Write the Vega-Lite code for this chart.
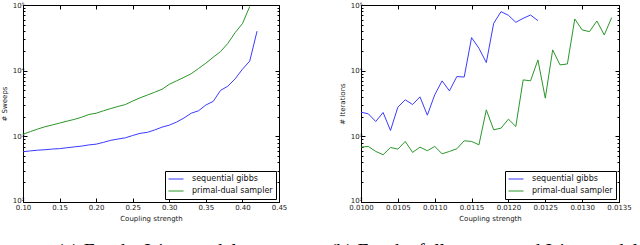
{
  "$schema": "https://vega.github.io/schema/vega-lite/v6.json",
  "padding": {"left": 0, "top": 1, "right": 0, "bottom": 0},
  "autosize": {"type": "pad"},
  "bounds": "flush",
  "spacing": 82,
  "background": "white",
  "config": {
    "view": {"stroke": null},
    "font": "DejaVu Sans",
    "axis": {
      "grid": false,
      "domainColor": "black",
      "domainWidth": 1,
      "tickColor": "black",
      "tickWidth": 1,
      "labelFont": "DejaVu Sans",
      "labelFontSize": 7,
      "labelColor": "#222222",
      "titleFont": "DejaVu Sans",
      "titleFontSize": 7,
      "titleFontWeight": "normal",
      "titleColor": "#222222",
      "labelOverlap": false,
      "labelFlush": false
    },
    "legend": {
      "orient": "bottom-right",
      "offset": 3,
      "strokeColor": "black",
      "fillColor": "white",
      "padding": 3,
      "cornerRadius": 0,
      "labelFont": "DejaVu Sans",
      "labelFontSize": 8,
      "labelColor": "#111111",
      "labelOffset": 8,
      "symbolType": "stroke",
      "symbolSize": 225,
      "symbolStrokeWidth": 1,
      "clipHeight": 10,
      "rowPadding": 2,
      "title": null
    },
    "title": {"font": "Liberation Serif", "fontSize": 19.5, "fontWeight": "normal", "color": "black"}
  },
  "datasets": {
    "left": [
      {"coupling": 0.10, "value": 583, "method": "sequential gibbs"},
      {"coupling": 0.11, "value": 600, "method": "sequential gibbs"},
      {"coupling": 0.12, "value": 615, "method": "sequential gibbs"},
      {"coupling": 0.13, "value": 625, "method": "sequential gibbs"},
      {"coupling": 0.14, "value": 640, "method": "sequential gibbs"},
      {"coupling": 0.15, "value": 650, "method": "sequential gibbs"},
      {"coupling": 0.16, "value": 670, "method": "sequential gibbs"},
      {"coupling": 0.17, "value": 690, "method": "sequential gibbs"},
      {"coupling": 0.18, "value": 710, "method": "sequential gibbs"},
      {"coupling": 0.19, "value": 740, "method": "sequential gibbs"},
      {"coupling": 0.20, "value": 760, "method": "sequential gibbs"},
      {"coupling": 0.21, "value": 810, "method": "sequential gibbs"},
      {"coupling": 0.22, "value": 870, "method": "sequential gibbs"},
      {"coupling": 0.23, "value": 910, "method": "sequential gibbs"},
      {"coupling": 0.24, "value": 950, "method": "sequential gibbs"},
      {"coupling": 0.25, "value": 1030, "method": "sequential gibbs"},
      {"coupling": 0.26, "value": 1110, "method": "sequential gibbs"},
      {"coupling": 0.27, "value": 1150, "method": "sequential gibbs"},
      {"coupling": 0.28, "value": 1250, "method": "sequential gibbs"},
      {"coupling": 0.29, "value": 1380, "method": "sequential gibbs"},
      {"coupling": 0.30, "value": 1480, "method": "sequential gibbs"},
      {"coupling": 0.31, "value": 1650, "method": "sequential gibbs"},
      {"coupling": 0.32, "value": 1900, "method": "sequential gibbs"},
      {"coupling": 0.33, "value": 2250, "method": "sequential gibbs"},
      {"coupling": 0.34, "value": 2450, "method": "sequential gibbs"},
      {"coupling": 0.35, "value": 3000, "method": "sequential gibbs"},
      {"coupling": 0.36, "value": 3400, "method": "sequential gibbs"},
      {"coupling": 0.37, "value": 5000, "method": "sequential gibbs"},
      {"coupling": 0.38, "value": 5800, "method": "sequential gibbs"},
      {"coupling": 0.39, "value": 7500, "method": "sequential gibbs"},
      {"coupling": 0.40, "value": 10500, "method": "sequential gibbs"},
      {"coupling": 0.41, "value": 14000, "method": "sequential gibbs"},
      {"coupling": 0.42, "value": 40000, "method": "sequential gibbs"},
      {"coupling": 0.10, "value": 1075, "method": "primal-dual sampler"},
      {"coupling": 0.11, "value": 1180, "method": "primal-dual sampler"},
      {"coupling": 0.12, "value": 1290, "method": "primal-dual sampler"},
      {"coupling": 0.13, "value": 1400, "method": "primal-dual sampler"},
      {"coupling": 0.14, "value": 1490, "method": "primal-dual sampler"},
      {"coupling": 0.15, "value": 1590, "method": "primal-dual sampler"},
      {"coupling": 0.16, "value": 1700, "method": "primal-dual sampler"},
      {"coupling": 0.17, "value": 1810, "method": "primal-dual sampler"},
      {"coupling": 0.18, "value": 1950, "method": "primal-dual sampler"},
      {"coupling": 0.19, "value": 2150, "method": "primal-dual sampler"},
      {"coupling": 0.20, "value": 2250, "method": "primal-dual sampler"},
      {"coupling": 0.21, "value": 2450, "method": "primal-dual sampler"},
      {"coupling": 0.22, "value": 2650, "method": "primal-dual sampler"},
      {"coupling": 0.23, "value": 2850, "method": "primal-dual sampler"},
      {"coupling": 0.24, "value": 3050, "method": "primal-dual sampler"},
      {"coupling": 0.25, "value": 3450, "method": "primal-dual sampler"},
      {"coupling": 0.26, "value": 3850, "method": "primal-dual sampler"},
      {"coupling": 0.27, "value": 4250, "method": "primal-dual sampler"},
      {"coupling": 0.28, "value": 4700, "method": "primal-dual sampler"},
      {"coupling": 0.29, "value": 5200, "method": "primal-dual sampler"},
      {"coupling": 0.30, "value": 6200, "method": "primal-dual sampler"},
      {"coupling": 0.31, "value": 7000, "method": "primal-dual sampler"},
      {"coupling": 0.32, "value": 7900, "method": "primal-dual sampler"},
      {"coupling": 0.33, "value": 9000, "method": "primal-dual sampler"},
      {"coupling": 0.34, "value": 10800, "method": "primal-dual sampler"},
      {"coupling": 0.35, "value": 13000, "method": "primal-dual sampler"},
      {"coupling": 0.36, "value": 16000, "method": "primal-dual sampler"},
      {"coupling": 0.37, "value": 19500, "method": "primal-dual sampler"},
      {"coupling": 0.38, "value": 26000, "method": "primal-dual sampler"},
      {"coupling": 0.39, "value": 38000, "method": "primal-dual sampler"},
      {"coupling": 0.40, "value": 52000, "method": "primal-dual sampler"},
      {"coupling": 0.41, "value": 95000, "method": "primal-dual sampler"}
    ],
    "right": [
      {"coupling": 0.0100, "value": 2335, "method": "sequential gibbs"},
      {"coupling": 0.0101, "value": 2200, "method": "sequential gibbs"},
      {"coupling": 0.0102, "value": 1683, "method": "sequential gibbs"},
      {"coupling": 0.0103, "value": 2307, "method": "sequential gibbs"},
      {"coupling": 0.0104, "value": 1228, "method": "sequential gibbs"},
      {"coupling": 0.0105, "value": 2780, "method": "sequential gibbs"},
      {"coupling": 0.0106, "value": 3595, "method": "sequential gibbs"},
      {"coupling": 0.0107, "value": 3052, "method": "sequential gibbs"},
      {"coupling": 0.0108, "value": 3990, "method": "sequential gibbs"},
      {"coupling": 0.0109, "value": 2100, "method": "sequential gibbs"},
      {"coupling": 0.0110, "value": 4280, "method": "sequential gibbs"},
      {"coupling": 0.0111, "value": 6990, "method": "sequential gibbs"},
      {"coupling": 0.0112, "value": 4925, "method": "sequential gibbs"},
      {"coupling": 0.0113, "value": 8130, "method": "sequential gibbs"},
      {"coupling": 0.0114, "value": 8000, "method": "sequential gibbs"},
      {"coupling": 0.0115, "value": 31860, "method": "sequential gibbs"},
      {"coupling": 0.0116, "value": 21940, "method": "sequential gibbs"},
      {"coupling": 0.0117, "value": 13280, "method": "sequential gibbs"},
      {"coupling": 0.0118, "value": 52630, "method": "sequential gibbs"},
      {"coupling": 0.0119, "value": 79200, "method": "sequential gibbs"},
      {"coupling": 0.0120, "value": 69640, "method": "sequential gibbs"},
      {"coupling": 0.0121, "value": 54500, "method": "sequential gibbs"},
      {"coupling": 0.0122, "value": 62700, "method": "sequential gibbs"},
      {"coupling": 0.0123, "value": 70450, "method": "sequential gibbs"},
      {"coupling": 0.0124, "value": 57800, "method": "sequential gibbs"},
      {"coupling": 0.0100, "value": 685, "method": "primal-dual sampler"},
      {"coupling": 0.0101, "value": 701, "method": "primal-dual sampler"},
      {"coupling": 0.0102, "value": 589, "method": "primal-dual sampler"},
      {"coupling": 0.0103, "value": 524, "method": "primal-dual sampler"},
      {"coupling": 0.0104, "value": 677, "method": "primal-dual sampler"},
      {"coupling": 0.0105, "value": 638, "method": "primal-dual sampler"},
      {"coupling": 0.0106, "value": 836, "method": "primal-dual sampler"},
      {"coupling": 0.0107, "value": 569, "method": "primal-dual sampler"},
      {"coupling": 0.0108, "value": 685, "method": "primal-dual sampler"},
      {"coupling": 0.0109, "value": 603, "method": "primal-dual sampler"},
      {"coupling": 0.0110, "value": 701, "method": "primal-dual sampler"},
      {"coupling": 0.0111, "value": 542, "method": "primal-dual sampler"},
      {"coupling": 0.0112, "value": 589, "method": "primal-dual sampler"},
      {"coupling": 0.0113, "value": 646, "method": "primal-dual sampler"},
      {"coupling": 0.0114, "value": 855, "method": "primal-dual sampler"},
      {"coupling": 0.0115, "value": 836, "method": "primal-dual sampler"},
      {"coupling": 0.0116, "value": 743, "method": "primal-dual sampler"},
      {"coupling": 0.0117, "value": 2530, "method": "primal-dual sampler"},
      {"coupling": 0.0118, "value": 1257, "method": "primal-dual sampler"},
      {"coupling": 0.0119, "value": 1333, "method": "primal-dual sampler"},
      {"coupling": 0.0120, "value": 1827, "method": "primal-dual sampler"},
      {"coupling": 0.0121, "value": 1413, "method": "primal-dual sampler"},
      {"coupling": 0.0122, "value": 7240, "method": "primal-dual sampler"},
      {"coupling": 0.0123, "value": 7000, "method": "primal-dual sampler"},
      {"coupling": 0.0124, "value": 14580, "method": "primal-dual sampler"},
      {"coupling": 0.0125, "value": 3810, "method": "primal-dual sampler"},
      {"coupling": 0.0126, "value": 20700, "method": "primal-dual sampler"},
      {"coupling": 0.0127, "value": 12240, "method": "primal-dual sampler"},
      {"coupling": 0.0128, "value": 12650, "method": "primal-dual sampler"},
      {"coupling": 0.0129, "value": 61300, "method": "primal-dual sampler"},
      {"coupling": 0.0130, "value": 41700, "method": "primal-dual sampler"},
      {"coupling": 0.0131, "value": 39330, "method": "primal-dual sampler"},
      {"coupling": 0.0132, "value": 57100, "method": "primal-dual sampler"},
      {"coupling": 0.0133, "value": 35000, "method": "primal-dual sampler"},
      {"coupling": 0.0134, "value": 64200, "method": "primal-dual sampler"}
    ]
  },
  "hconcat": [
    {
      "width": 256,
      "height": 197,
      "title": {"text": "(a) For the Ising model", "orient": "bottom", "anchor": "middle", "baseline": "top", "offset": 20.5, "dx": -4},
      "layer": [
        {
          "data": {"name": "left"},
          "mark": {"type": "line", "strokeWidth": 1, "clip": true},
          "encoding": {
            "x": {"field": "coupling", "type": "quantitative",
              "scale": {"domain": [0.10, 0.45], "nice": false, "zero": false},
              "axis": {"orient": "bottom", "title": "Coupling strength", "values": [0.10, 0.15, 0.20, 0.25, 0.30, 0.35, 0.40, 0.45], "format": ".2f", "tickSize": -4, "labelPadding": 5, "titlePadding": 4}},
            "y": {"field": "value", "type": "quantitative",
              "scale": {"type": "log", "domain": [100, 100000], "nice": false},
              "axis": {"orient": "left", "title": "# Sweeps",
                "values": [100, 200, 300, 400, 500, 600, 700, 800, 900, 1000, 2000, 3000, 4000, 5000, 6000, 7000, 8000, 9000, 10000, 20000, 30000, 40000, 50000, 60000, 70000, 80000, 90000, 100000],
                "labelExpr": "datum.value==100?'10²':datum.value==1000?'10³':datum.value==10000?'10⁴':datum.value==100000?'10⁵':''",
                "labelOffset": {"condition": {"test": "datum.value==100", "value": -1.5}, "value": 0},
                "tickSize": {"condition": {"test": "indexof([100,1000,10000,100000], datum.value) >= 0", "value": -4}, "value": -2},
                "labelPadding": 3, "titlePadding": 5}},
            "color": {"field": "method", "type": "nominal",
              "scale": {"domain": ["sequential gibbs", "primal-dual sampler"], "range": ["#3b3bff", "#2a962a"]}}
          }
        },
        {
          "data": {"name": "left"},
          "mark": {"type": "line", "opacity": 0},
          "encoding": {
            "x": {"field": "coupling", "type": "quantitative",
              "axis": {"orient": "top", "title": null, "labels": false, "values": [0.10, 0.15, 0.20, 0.25, 0.30, 0.35, 0.40, 0.45], "tickSize": -4}},
            "y": {"field": "value", "type": "quantitative",
              "axis": {"orient": "right", "title": null, "labels": false,
                "values": [100, 200, 300, 400, 500, 600, 700, 800, 900, 1000, 2000, 3000, 4000, 5000, 6000, 7000, 8000, 9000, 10000, 20000, 30000, 40000, 50000, 60000, 70000, 80000, 90000, 100000],
                "tickSize": {"condition": {"test": "indexof([100,1000,10000,100000], datum.value) >= 0", "value": -4}, "value": -2}}},
            "detail": {"field": "method", "type": "nominal"}
          }
        }
      ],
      "resolve": {"axis": {"x": "independent", "y": "independent"}}
    },
    {
      "width": 258,
      "height": 197,
      "title": {"text": "(b) For the fully-connected Ising model", "orient": "bottom", "anchor": "middle", "baseline": "top", "offset": 20.5, "dx": -6},
      "layer": [
        {
          "data": {"name": "right"},
          "mark": {"type": "line", "strokeWidth": 1, "clip": true},
          "encoding": {
            "x": {"field": "coupling", "type": "quantitative",
              "scale": {"domain": [0.0100, 0.0135], "nice": false, "zero": false},
              "axis": {"orient": "bottom", "title": "Coupling strength", "values": [0.0100, 0.0105, 0.0110, 0.0115, 0.0120, 0.0125, 0.0130, 0.0135], "format": ".4f", "tickSize": -4, "labelPadding": 5, "titlePadding": 4}},
            "y": {"field": "value", "type": "quantitative",
              "scale": {"type": "log", "domain": [100, 100000], "nice": false},
              "axis": {"orient": "left", "title": "# Iterations",
                "values": [100, 200, 300, 400, 500, 600, 700, 800, 900, 1000, 2000, 3000, 4000, 5000, 6000, 7000, 8000, 9000, 10000, 20000, 30000, 40000, 50000, 60000, 70000, 80000, 90000, 100000],
                "labelExpr": "datum.value==100?'10²':datum.value==1000?'10³':datum.value==10000?'10⁴':datum.value==100000?'10⁵':''",
                "labelOffset": {"condition": {"test": "datum.value==100", "value": -1.5}, "value": 0},
                "tickSize": {"condition": {"test": "indexof([100,1000,10000,100000], datum.value) >= 0", "value": -4}, "value": -2},
                "labelPadding": 3, "titlePadding": 5}},
            "color": {"field": "method", "type": "nominal",
              "scale": {"domain": ["sequential gibbs", "primal-dual sampler"], "range": ["#3b3bff", "#2a962a"]}}
          }
        },
        {
          "data": {"name": "right"},
          "mark": {"type": "line", "opacity": 0},
          "encoding": {
            "x": {"field": "coupling", "type": "quantitative",
              "axis": {"orient": "top", "title": null, "labels": false, "values": [0.0100, 0.0105, 0.0110, 0.0115, 0.0120, 0.0125, 0.0130, 0.0135], "tickSize": -4}},
            "y": {"field": "value", "type": "quantitative",
              "axis": {"orient": "right", "title": null, "labels": false,
                "values": [100, 200, 300, 400, 500, 600, 700, 800, 900, 1000, 2000, 3000, 4000, 5000, 6000, 7000, 8000, 9000, 10000, 20000, 30000, 40000, 50000, 60000, 70000, 80000, 90000, 100000],
                "tickSize": {"condition": {"test": "indexof([100,1000,10000,100000], datum.value) >= 0", "value": -4}, "value": -2}}},
            "detail": {"field": "method", "type": "nominal"}
          }
        }
      ],
      "resolve": {"axis": {"x": "independent", "y": "independent"}}
    }
  ],
  "resolve": {"scale": {"color": "independent"}, "legend": {"color": "independent"}}
}
